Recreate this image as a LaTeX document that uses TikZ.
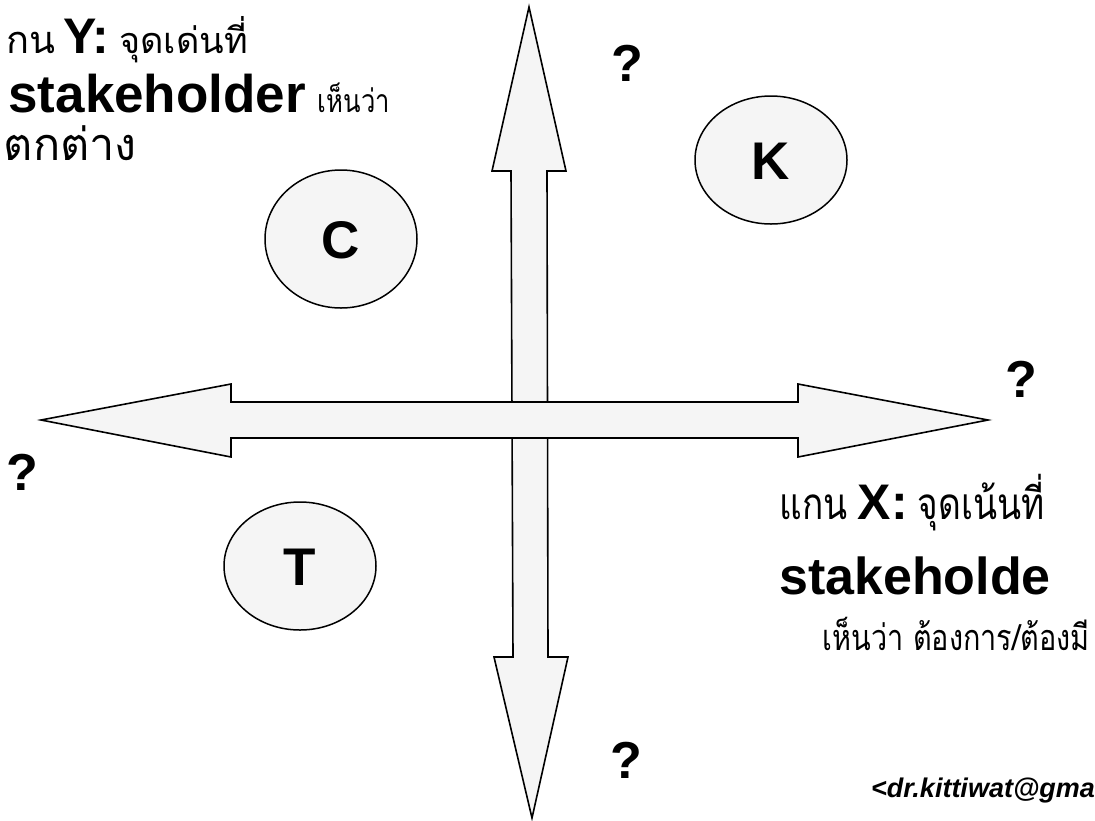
\documentclass[tikz,border=0pt]{standalone}
\usepackage{fontspec}
\setmainfont{Liberation Sans}
\newfontfamily\thaifont[Script=Thai]{Loma}
\newfontfamily\thainarrow[Script=Thai, FakeStretch=0.8]{Loma}
\usepackage{tikz}
\usetikzlibrary{shapes.geometric}

\newcommand\thaibig{\thainarrow\fontsize{44}{44}\selectfont}
\newcommand\thaismall{\thainarrow\fontsize{36}{36}\selectfont}
\newcommand\thaiwide[1]{\thaifont\fontsize{#1}{#1}\selectfont}
\newcommand\latbig{\rmfamily\bfseries\fontsize{52}{52}\selectfont}
\newcommand\axisname{\rmfamily\bfseries\fontsize{50}{50}\selectfont}
\newcommand\gap{\hspace{10pt}}

\begin{document}
\begin{tikzpicture}[x=1pt, y=-1pt,
    blob/.style={draw, ellipse, line width=1.5pt, fill=gray!8, inner sep=0pt,
      font=\bfseries\fontsize{53}{53}\selectfont, text height=38pt, text depth=0pt},
    blockarrow/.style={draw, line width=1.6pt, fill=gray!8, line join=miter},
    qmark/.style={font=\bfseries\fontsize{52}{52}\selectfont, inner sep=0pt},
    ylabel/.style={anchor=base east, inner sep=0pt},
    xlabel/.style={anchor=base west, inner sep=0pt}
  ]
  \useasboundingbox (0,0) rectangle (1095,820);
  \clip (0,0) rectangle (1095,820);

  % vertical arrow first, horizontal one lies over it
  \draw[blockarrow] (529,7) -- (566,171) -- (547,171) -- (548,657) -- (568,657)
    -- (532,818) -- (494,657) -- (513,657) -- (511,171) -- (492,171) -- cycle;
  \draw[blockarrow] (41,420) -- (231,384) -- (231,402) -- (798,402) -- (798,384)
    -- (988,420) -- (798,457) -- (798,438) -- (231,438) -- (231,457) -- cycle;

  % quadrants
  \node[blob, minimum width=152pt, minimum height=138pt] (c) at (341,239) {C};
  \node[blob, minimum width=152pt, minimum height=128pt] (k) at (771,160) {K};
  \node[blob, minimum width=152pt, minimum height=128pt] (t) at (300,566) {T};

  \node[qmark] (qtop) at (627,63) {?};
  \node[qmark] (qright) at (1021,379) {?};
  \node[qmark] (qleft) at (22,472) {?};
  \node[qmark] (qbottom) at (626,760) {?};

  % axis notes
  \node[ylabel] (ylab1) at (248,53) {{\thaiwide{38}กน}\hspace{8pt}{\axisname Y:}\gap{\thaiwide{36}จุดเด่นที่}};
  \node[ylabel] (ylab2) at (390,112) {{\rmfamily\bfseries\fontsize{53}{53}\selectfont stakeholder}\hspace{12pt}{\thainarrow\fontsize{32}{32}\selectfont เห็นว่า}};
  \node[ylabel] (ylab3) at (137,160) {\thaiwide{45}ตกต่าง};

  \node[ylabel] (xlab1) at (1045,519) {{\thaibig แกน}\gap{\axisname X:}\gap{\thaibig จุดเน้นที่}};
  \node[xlabel] (xlab2) at (779,594) {\latbig stakeholde};
  \node[ylabel] (xlab3) at (1090,650) {\thaismall เห็นว่า ต้องการ/ต้องมี};

  \node[xlabel, font=\bfseries\itshape\fontsize{27}{27}\selectfont] (mail) at (871,797) {<dr.kittiwat@gma};
\end{tikzpicture}
\end{document}
